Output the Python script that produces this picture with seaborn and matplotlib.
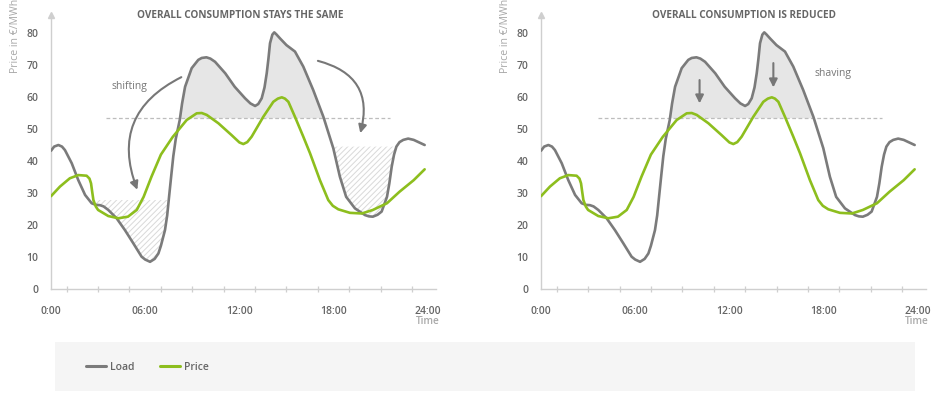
import numpy as np
import pandas as pd
import matplotlib
matplotlib.use("Agg")
import matplotlib.pyplot as plt
from matplotlib.lines import Line2D
from matplotlib.patches import FancyArrowPatch, Rectangle
import seaborn as sns

# ---- data -------------------------------------------------------------
load_hours = [0.0, 0.2, 0.47, 0.7, 0.89, 1.32, 1.74, 2.17, 2.59, 2.85, 3.12,
              3.35, 3.65, 4.18, 4.71, 5.24, 5.77, 6.0, 6.31, 6.6, 6.84, 7.0,
              7.26, 7.4, 7.52, 7.65, 7.79, 7.95, 8.2, 8.35, 8.54, 8.96, 9.38,
              9.6, 9.9, 10.15, 10.45, 11.1, 11.7, 12.36, 12.7, 13.0, 13.2,
              13.42, 13.6, 13.74, 13.85, 13.95, 14.1, 14.22, 14.35, 14.59,
              15.0, 15.54, 16.07, 16.7, 17.35, 17.98, 18.4, 18.8, 19.36,
              20.0, 20.25, 20.5, 20.8, 21.06, 21.4, 21.55, 21.7, 21.85, 22.0,
              22.2, 22.44, 22.75, 23.1, 23.8]
load_values = [43.2, 44.5, 45.0, 44.5, 43.4, 39.3, 34.0, 29.4, 26.8, 26.3, 26.2,
               25.8, 24.7, 22.1, 18.4, 14.3, 10.1, 9.2, 8.5, 9.4, 11.1, 13.5,
               18.4, 23.0, 28.8, 35.0, 41.5, 47.0, 52.8, 58.0, 63.2, 69.0, 71.6,
               72.2, 72.4, 72.0, 71.0, 67.4, 63.2, 59.6, 58.0, 57.2, 57.8,
               59.6, 63.0, 67.4, 72.0, 76.8, 79.5, 80.2, 79.6, 78.3,
               76.2, 74.2, 69.5, 62.2, 53.8, 44.0, 35.1, 28.8, 25.2,
               23.1, 22.7, 22.6, 23.2, 24.2, 28.8, 33.0, 38.2, 42.0, 44.5,
               45.9, 46.6, 47.0, 46.6, 45.0]

price_hours = [0.0, 0.57, 1.2, 1.74, 2.27, 2.45, 2.55, 2.62, 2.7, 2.85, 3.0,
               3.65, 4.29, 4.9, 5.46, 5.9, 6.4, 7.0, 7.75, 8.64, 9.28, 9.6,
               9.92, 10.66, 11.5, 12.0, 12.25, 12.5, 12.78, 13.52, 14.16,
               14.45, 14.7, 14.9, 15.12, 15.54, 16.07, 16.5, 17.13, 17.66,
               17.95, 18.3, 19.04, 19.8, 20.5, 21.4, 22.2, 23.1, 23.8]
price_values = [29.0, 32.0, 34.6, 35.6, 35.4, 34.5, 33.0, 30.5, 27.8, 25.8, 24.7,
                22.8, 22.1, 22.6, 24.7, 28.8, 35.1, 42.0, 47.5, 52.8, 54.9, 55.0,
                54.4, 51.8, 48.1, 45.8, 45.3, 45.9, 47.6, 53.8, 58.5,
                59.5, 59.9, 59.5, 58.5, 53.8, 47.6, 42.4, 34.0, 27.8,
                26.0, 24.9, 23.8, 23.6, 24.7, 26.8, 30.4, 34.0, 37.4]

threshold = 53.5          # dashed reference level
shift_low_fill = 27.8     # level of the night-time hatched block
shift_eve_fill = 44.5     # level of the evening hatched block

panel_titles = ["OVERALL CONSUMPTION STAYS THE SAME", "OVERALL CONSUMPTION IS REDUCED"]
tick_hours = list(range(0, 25, 2))
tick_labels = ["0:00", "", "", "06:00", "", "", "12:00", "", "", "18:00", "", "", "24:00"]
series_names = ["Load", "Price"]

# ---- style ------------------------------------------------------------
sns.set_theme(style="white")
plt.rcParams["font.family"] = ["Open Sans", "DejaVu Sans"]
plt.rcParams["hatch.linewidth"] = 0.7

LOAD_C = "#7b7b7b"
PRICE_C = "#8dbe1e"
AXIS_C = "#cfcfcf"
TEXT_C = "#666666"
LIGHT_TEXT = "#a8a8a8"
ARROW_C = "#777777"

W, H = 931, 393
fig = plt.figure(figsize=(W / 100, H / 100), dpi=100)

load_df = pd.DataFrame({"hour": load_hours, "value": load_values})
price_df = pd.DataFrame({"hour": price_hours, "value": price_values})
lh = np.array(load_hours)
lv = np.array(load_values)

PX_PER_H = 15.7
Y_TOP = 274 / 3.2


def make_axes(x0):
    ax = fig.add_axes([x0 / W, 1 - 289 / H, 24.5 * PX_PER_H / W, 274 / H])
    ax.set_xlim(0, 24.5)
    ax.set_ylim(0, Y_TOP)
    for s in ("top", "right"):
        ax.spines[s].set_visible(False)
    for s in ("left", "bottom"):
        ax.spines[s].set_color(AXIS_C)
        ax.spines[s].set_linewidth(1.0)
    ax.set_yticks(range(0, 81, 10))
    ax.set_xticks(tick_hours)
    ax.set_xticklabels(tick_labels)
    ax.set_xticks(range(1, 24, 2), minor=True)
    ax.tick_params(axis="y", length=0, pad=9, labelsize=7.5, labelcolor=TEXT_C)
    ax.tick_params(axis="x", which="major", direction="inout", length=8,
                   width=0.9, color=AXIS_C, pad=8, labelsize=7.5, labelcolor=TEXT_C)
    ax.tick_params(axis="x", which="minor", direction="inout", length=5,
                   width=0.9, color=AXIS_C)
    ax.tick_params(axis="x", which="minor", bottom=True)
    for lab in ax.get_xticklabels() + ax.get_yticklabels():
        lab.set_fontweight("semibold")
    ax.plot(0, Y_TOP, marker="^", color=AXIS_C, markersize=5, clip_on=False, zorder=5)
    ax.patch.set_alpha(0)
    return ax


def draw_curves(ax):
    line_kw = dict(linewidth=1.9, sort=False, solid_joinstyle="round",
                   solid_capstyle="round")
    sns.lineplot(data=load_df, x="hour", y="value", ax=ax, color=LOAD_C,
                 zorder=4, **line_kw)
    sns.lineplot(data=price_df, x="hour", y="value", ax=ax, color=PRICE_C,
                 zorder=5, **line_kw)
    ax.set_xlabel("")
    ax.set_ylabel("")


def peak_fill(ax):
    ax.fill_between(lh, lv, threshold, where=(lv > threshold) & (lh > 7) & (lh < 18),
                    interpolate=True, color="#e6e6e6", linewidth=0, zorder=1)


def hatch_fill(ax, level, lo, hi):
    ax.fill_between(lh, lv, level, where=(lv < level) & (lh > lo) & (lh < hi),
                    interpolate=True, facecolor="none", edgecolor="#d9d9d9",
                    hatch="//////", linewidth=0, zorder=1)


def arrow(ax, start, end, rad=0.0):
    ax.add_patch(FancyArrowPatch(start, end, connectionstyle=f"arc3,rad={rad}",
                                 arrowstyle="-|>", mutation_scale=12,
                                 color=ARROW_C, linewidth=1.5,
                                 shrinkA=0, shrinkB=0, zorder=6))


# ---- left panel: load shifting ---------------------------------------
ax1 = make_axes(51)
peak_fill(ax1)
hatch_fill(ax1, shift_low_fill, 2.5, 8)
hatch_fill(ax1, shift_eve_fill, 17.5, 22.5)
ax1.hlines(threshold, 3.5, 21.6, colors="#bdbdbd", linestyles=(0, (3, 2)),
           linewidth=0.9, zorder=2)
draw_curves(ax1)
arrow(ax1, (8.3, 66.2), (5.5, 31.0), rad=0.45)
arrow(ax1, (17.0, 71.3), (19.7, 48.7), rad=-0.5)
ax1.text(5.0, 63.4, "shifting", ha="center", va="center", fontsize=7.5,
         color=ARROW_C)

# ---- right panel: peak shaving ---------------------------------------
ax2 = make_axes(541)
peak_fill(ax2)
ax2.hlines(threshold, 3.6, 21.7, colors="#bdbdbd", linestyles=(0, (3, 2)),
           linewidth=0.9, zorder=2)
draw_curves(ax2)
arrow(ax2, (10.1, 65.3), (10.1, 58.0))
arrow(ax2, (14.8, 70.6), (14.8, 63.0))
ax2.text(17.45, 67.3, "shaving", ha="left", va="center", fontsize=7.5,
         color=ARROW_C)

# ---- titles and axis captions ----------------------------------------
fig.text(240.5 / W, 1 - 15 / H, panel_titles[0], ha="center", va="center",
         fontsize=7.2, fontweight="bold", color=TEXT_C)
fig.text(744.5 / W, 1 - 15 / H, panel_titles[1], ha="center", va="center",
         fontsize=7.2, fontweight="bold", color=TEXT_C)
for x in (15, 505):
    fig.text(x / W, 1 - 73 / H, "Price in €/MWh", rotation=90, ha="center",
             va="bottom", fontsize=7.6, color=LIGHT_TEXT)
for x in (428, 917):
    fig.text(x / W, 1 - 321 / H, "Time", ha="center", va="center",
             fontsize=7.2, fontweight="semibold", color=LIGHT_TEXT)

# ---- legend ----------------------------------------------------------
fig.add_artist(Rectangle((55 / W, 2 / H), 860 / W, 49 / H,
                         transform=fig.transFigure, facecolor="#f5f5f5",
                         edgecolor="none", zorder=0))
handles = [Line2D([], [], color=LOAD_C, linewidth=2.2),
           Line2D([], [], color=PRICE_C, linewidth=2.2)]
leg = fig.legend(handles, series_names, loc="center left",
                 bbox_to_anchor=(86 / W, 1 - 367 / H), ncol=2, frameon=False,
                 fontsize=7.5, handlelength=1.9, handletextpad=0.45,
                 columnspacing=2.4, borderpad=0, borderaxespad=0)
for t in leg.get_texts():
    t.set_color(TEXT_C)
    t.set_fontweight("semibold")

fig.savefig("out.png", dpi=100)
